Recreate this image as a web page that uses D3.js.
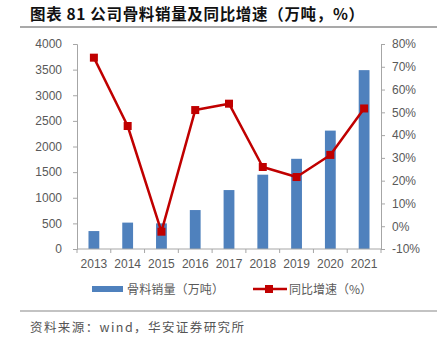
<!DOCTYPE html>
<html>
<head>
<meta charset="utf-8">
<script src="https://cdn.jsdelivr.net/npm/d3@7/dist/d3.min.js"></script>
<style>
  html, body { margin: 0; padding: 0; background: #fff; }
  svg { display: block; }
</style>
</head>
<body>
<svg id="chart" width="437" height="341"></svg>
<script>
// Aggregate sales volume (10k tonnes) and year-on-year growth (%)
const years = ["2013", "2014", "2015", "2016", "2017", "2018", "2019", "2020", "2021"];
const volume = [350, 515, 500, 760, 1150, 1450, 1760, 2310, 3490];
const growth = [74, 44, -2.4, 51, 53.8, 26, 21.6, 31.3, 51.7];
const leftTicks = [0, 500, 1000, 1500, 2000, 2500, 3000, 3500, 4000];
const rightTicks = [-10, 0, 10, 20, 30, 40, 50, 60, 70, 80];

const titleText = "图表 81 公司骨料销量及同比增速（万吨，%）";
const legendVolume = "骨料销量（万吨）";
const legendGrowth = "同比增速（%）";
const sourceText = "资料来源：wind，华安证券研究所";

const svg = d3.select("#chart");
const axisColor = "#a6a6a6";
const labelColor = "#595959";
const barColor = "#4f81bd";
const lineColor = "#c00000";
const font = "Liberation Sans, Arial, sans-serif";
const cjk = "Noto Sans CJK SC, sans-serif";

const plot = { left: 77, right: 381, top: 44, bottom: 249 };

const x = d3.scaleBand().domain(years).range([plot.left, plot.right]).paddingInner(0).paddingOuter(0);
const yL = d3.scaleLinear().domain([0, 4000]).range([plot.bottom, plot.top]);
const yR = d3.scaleLinear().domain([-10, 80]).range([plot.bottom, plot.top]);

// Title and rules
svg.append("text")
  .attr("x", 30).attr("y", 20)
  .attr("font-family", cjk).attr("font-weight", "bold").attr("font-size", 15.5)
  .attr("fill", "#111")
  .attr("textLength", 334).attr("lengthAdjust", "spacing")
  .text(titleText);
svg.append("line").attr("x1", 20).attr("x2", 437).attr("y1", 27).attr("y2", 27)
  .attr("stroke", "#555").attr("stroke-width", 1.2);
svg.append("line").attr("x1", 20).attr("x2", 437).attr("y1", 311).attr("y2", 311)
  .attr("stroke", "#888").attr("stroke-width", 1.2);

// Bars
const barW = x.bandwidth() * 0.32;
svg.append("g").selectAll("rect").data(years).join("rect")
  .attr("x", (d) => x(d) + x.bandwidth() / 2 - barW / 2)
  .attr("y", (d, i) => yL(volume[i]))
  .attr("width", barW)
  .attr("height", (d, i) => yL(0) - yL(volume[i]))
  .attr("fill", barColor);

// Axes
function styleAxis(g) {
  g.selectAll(".domain").attr("stroke", axisColor);
  g.selectAll(".tick line").attr("stroke", axisColor);
  g.selectAll("text").attr("fill", labelColor).attr("font-family", font).attr("font-size", 12);
}

const leftAxis = svg.append("g").attr("transform", `translate(${plot.left},0)`)
  .call(d3.axisLeft(yL).tickValues(leftTicks).tickSize(4).tickSizeOuter(4).tickPadding(11).tickFormat(d3.format("d")));
styleAxis(leftAxis);

const rightAxis = svg.append("g").attr("transform", `translate(${plot.right},0)`)
  .call(d3.axisRight(yR).tickValues(rightTicks).tickSize(4).tickSizeOuter(4).tickPadding(7).tickFormat((d) => d + "%"));
styleAxis(rightAxis);

// Category axis with ticks at band boundaries
const xAxis = svg.append("g").attr("transform", `translate(0,${plot.bottom})`)
  .call(d3.axisBottom(x).tickSize(0).tickPadding(10));
styleAxis(xAxis);
xAxis.selectAll(".domain").remove();
xAxis.append("line").attr("x1", plot.left).attr("x2", plot.right).attr("y1", 0).attr("y2", 0)
  .attr("stroke", axisColor);
const bounds = years.map((d) => x(d)).concat([x(years[years.length - 1]) + x.bandwidth()]);
xAxis.selectAll("line.bound").data(bounds).join("line").attr("class", "bound")
  .attr("x1", (d) => d).attr("x2", (d) => d).attr("y1", 0).attr("y2", 4)
  .attr("stroke", axisColor);

// Growth line with square markers
const cx = (d) => x(d) + x.bandwidth() / 2;
const line = d3.line().x((d, i) => cx(years[i])).y((d) => yR(d));
svg.append("path").datum(growth)
  .attr("d", line).attr("fill", "none")
  .attr("stroke", lineColor).attr("stroke-width", 2.5).attr("stroke-linejoin", "round");
svg.append("g").selectAll("rect").data(growth).join("rect")
  .attr("x", (d, i) => cx(years[i]) - 4)
  .attr("y", (d) => yR(d) - 4)
  .attr("width", 8).attr("height", 8)
  .attr("fill", lineColor);

// Legend
const lg = svg.append("g");
lg.append("rect").attr("x", 92).attr("y", 286).attr("width", 31).attr("height", 6).attr("fill", barColor);
lg.append("text").attr("x", 127).attr("y", 294)
  .attr("font-family", cjk).attr("font-size", 12).attr("fill", labelColor)
  .attr("textLength", 97).attr("lengthAdjust", "spacing").text(legendVolume);
lg.append("line").attr("x1", 253).attr("x2", 287).attr("y1", 289).attr("y2", 289)
  .attr("stroke", lineColor).attr("stroke-width", 2.5);
lg.append("rect").attr("x", 265).attr("y", 285).attr("width", 8).attr("height", 8).attr("fill", lineColor);
lg.append("text").attr("x", 289).attr("y", 294)
  .attr("font-family", cjk).attr("font-size", 12).attr("fill", labelColor)
  .attr("textLength", 83).attr("lengthAdjust", "spacing").text(legendGrowth);

// Source note
svg.append("text").attr("x", 30).attr("y", 332)
  .attr("font-family", cjk).attr("font-size", 12.5).attr("fill", "#555")
  .attr("textLength", 214).attr("lengthAdjust", "spacing").text(sourceText);
</script>
</body>
</html>
